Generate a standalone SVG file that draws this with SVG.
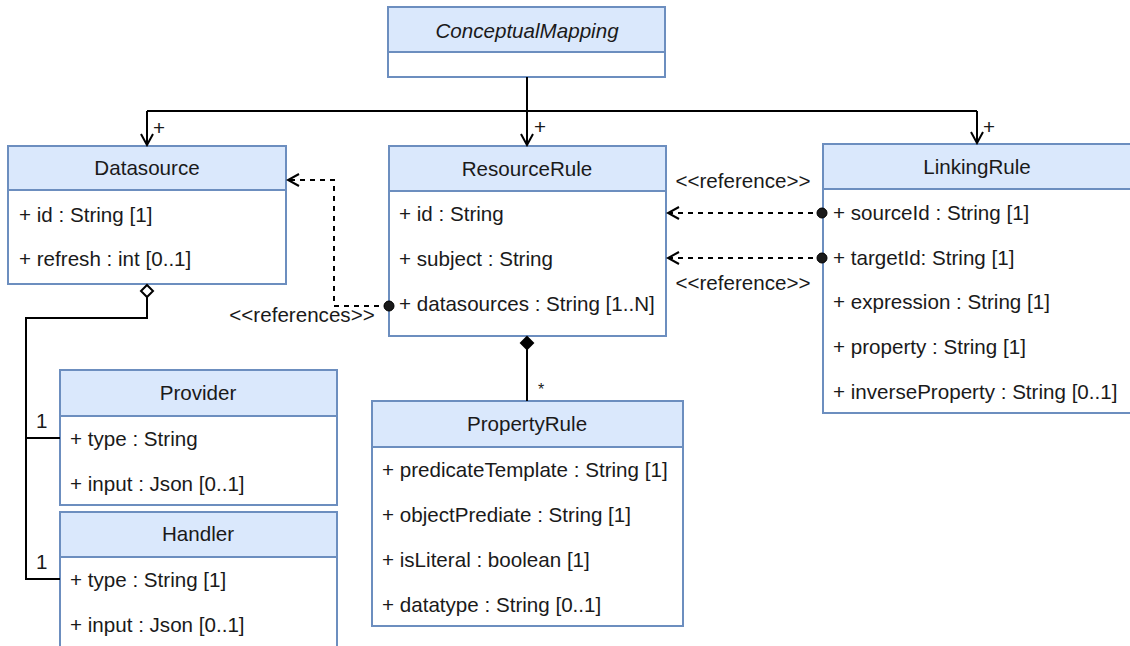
<svg xmlns="http://www.w3.org/2000/svg" width="1130" height="646" viewBox="0 0 1130 646">
<style>
.hd{fill:#dae8fc;stroke:#6c8ebf;stroke-width:2}
.bd{fill:#ffffff;stroke:#6c8ebf;stroke-width:2}
text{font-family:"Liberation Sans",Arial,sans-serif;font-size:20.6px;fill:#1a1a1a}
.t{text-anchor:middle}
.ln{fill:none;stroke:#000;stroke-width:2}
.ds{fill:none;stroke:#000;stroke-width:2;stroke-dasharray:5 5}
</style>
<defs>
<marker id="open" markerWidth="14" markerHeight="14" refX="12" refY="7" orient="auto" markerUnits="userSpaceOnUse">
<path d="M1,1 L12,7 L1,13" fill="none" stroke="#000" stroke-width="2"/>
</marker>
</defs>
<rect width="1130" height="646" fill="#ffffff"/>

<g id="ConceptualMapping">
<rect class="bd" x="388" y="7" width="277" height="70"/>
<rect class="hd" x="388" y="7" width="277" height="45"/>
<text class="t" x="527" y="38" font-style="italic">ConceptualMapping</text>
</g>

<g id="Datasource">
<rect class="bd" x="8" y="146" width="278" height="138"/>
<rect class="hd" x="8" y="146" width="278" height="44"/>
<text class="t" x="147" y="175">Datasource</text>
<text x="19" y="222">+ id : String [1]</text>
<text x="19" y="266">+ refresh : int [0..1]</text>
</g>

<g id="ResourceRule">
<rect class="bd" x="389" y="146" width="277" height="190"/>
<rect class="hd" x="389" y="146" width="277" height="45"/>
<text class="t" x="527" y="176">ResourceRule</text>
<text x="399" y="221">+ id : String</text>
<text x="399" y="266">+ subject : String</text>
<text x="399" y="311">+ datasources : String [1..N]</text>
</g>

<g id="LinkingRule">
<rect class="bd" x="823" y="144" width="320" height="269"/>
<rect class="hd" x="823" y="144" width="320" height="45"/>
<text class="t" x="977" y="174">LinkingRule</text>
<text x="833" y="220">+ sourceId : String [1]</text>
<text x="833" y="265">+ targetId: String [1]</text>
<text x="833" y="309">+ expression : String [1]</text>
<text x="833" y="354">+ property : String [1]</text>
<text x="833" y="399">+ inverseProperty : String [0..1]</text>
</g>

<g id="Provider">
<rect class="bd" x="60" y="370" width="277" height="135"/>
<rect class="hd" x="60" y="370" width="277" height="46"/>
<text class="t" x="198" y="400">Provider</text>
<text x="70" y="446">+ type : String</text>
<text x="70" y="491">+ input : Json [0..1]</text>
</g>

<g id="Handler">
<rect class="bd" x="60" y="512" width="277" height="140"/>
<rect class="hd" x="60" y="512" width="277" height="45"/>
<text class="t" x="198" y="541">Handler</text>
<text x="70" y="587">+ type : String [1]</text>
<text x="70" y="632">+ input : Json [0..1]</text>
</g>

<g id="PropertyRule">
<rect class="bd" x="372" y="401" width="311" height="225"/>
<rect class="hd" x="372" y="401" width="311" height="46"/>
<text class="t" x="527" y="431">PropertyRule</text>
<text x="382" y="477">+ predicateTemplate : String [1]</text>
<text x="382" y="522">+ objectPrediate : String [1]</text>
<text x="382" y="567">+ isLiteral : boolean [1]</text>
<text x="382" y="612">+ datatype : String [0..1]</text>
</g>

<g id="connectors">
<path class="ln" d="M527,77 V111"/>
<path class="ln" d="M147,111 H977"/>
<path class="ln" d="M147,111 V145" marker-end="url(#open)"/>
<path class="ln" d="M527,111 V145" marker-end="url(#open)"/>
<path class="ln" d="M977,111 V143" marker-end="url(#open)"/>
<text x="153" y="135">+</text>
<text x="534" y="134">+</text>
<text x="983" y="134">+</text>

<path class="ds" d="M389,306 H334 V180 H288" marker-end="url(#open)"/>
<circle cx="389" cy="306" r="5" fill="#1a1a1a" stroke="#000" stroke-width="1"/>
<text class="t" x="302" y="322">&lt;&lt;references&gt;&gt;</text>

<path class="ds" d="M823,213 H668" marker-end="url(#open)"/>
<circle cx="822" cy="213" r="5" fill="#1a1a1a" stroke="#000" stroke-width="1"/>
<path class="ds" d="M823,258 H668" marker-end="url(#open)"/>
<circle cx="822" cy="258" r="5" fill="#1a1a1a" stroke="#000" stroke-width="1"/>
<text class="t" x="743" y="188">&lt;&lt;reference&gt;&gt;</text>
<text class="t" x="743" y="290">&lt;&lt;reference&gt;&gt;</text>

<path d="M147,285 L153,291 L147,297 L141,291 Z" fill="#ffffff" stroke="#000" stroke-width="2"/>
<path class="ln" d="M147,297 V318 H26 V579 H60"/>
<path class="ln" d="M26,438 H60"/>
<text x="36" y="428">1</text>
<text x="36" y="569">1</text>

<path d="M527,337 L533,343 L527,349 L521,343 Z" fill="#000" stroke="#000" stroke-width="2"/>
<path class="ln" d="M527,349 V401"/>
<text x="538" y="395" style="font-size:16px">*</text>
</g>
</svg>
